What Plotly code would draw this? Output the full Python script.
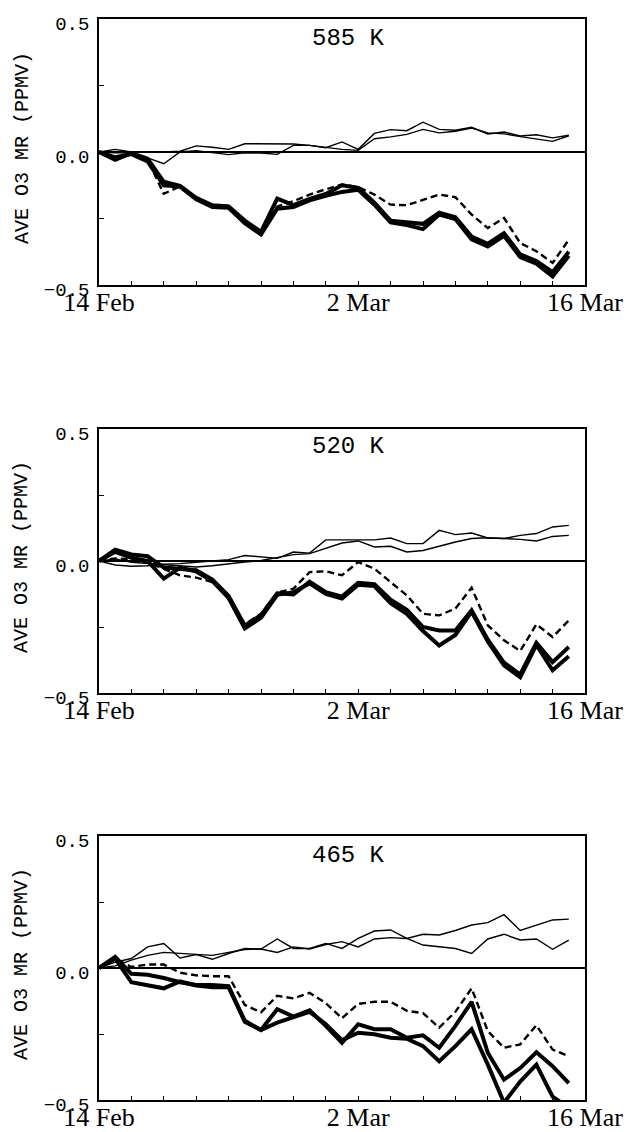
import plotly.graph_objects as go

# ---------------- data ----------------
days = list(range(30))  # days after 14 Feb
x_tickvals = list(range(0, 31, 2))
x_label_map = {0: "14 Feb", 16: "2 Mar", 30: "16 Mar"}
y_tickvals = [-0.5, -0.25, 0.0, 0.25, 0.5]
y_ticktext = ["\u22120.5", "", "0.0", "", "0.5"]
panel_titles = ["585 K", "520 K", "465 K"]
y_title = "AVE O3 MR (PPMV)"

# 585 K
p1_thin_a = [0, 0.01, 0, 0, 0, 0.003, 0.023, 0.018, 0.01, 0.031, 0.03, 0.03, 0.03, 0.025, 0.016,
             0.038, 0.01, 0.07, 0.084, 0.08, 0.112, 0.085, 0.082, 0.093, 0.068, 0.075, 0.06, 0.065,
             0.053, 0.063]
p1_thin_b = [0, -0.003, -0.003, -0.022, -0.044, 0, 0.005, -0.002, -0.01, -0.003, -0.004, -0.009,
             0.025, 0.025, 0.018, 0.01, 0.006, 0.05, 0.057, 0.066, 0.085, 0.072, 0.078, 0.09, 0.072,
             0.068, 0.058, 0.049, 0.04, 0.061]
p1_thick_a = [0, -0.029, -0.004, -0.025, -0.112, -0.127, -0.172, -0.2, -0.205, -0.258, -0.3, -0.175,
              -0.2, -0.176, -0.158, -0.125, -0.135, -0.19, -0.258, -0.265, -0.27, -0.228, -0.245,
              -0.318, -0.345, -0.305, -0.385, -0.41, -0.452, -0.375]
p1_thick_b = [0, -0.02, -0.008, -0.035, -0.125, -0.13, -0.178, -0.207, -0.21, -0.268, -0.31, -0.213,
              -0.207, -0.182, -0.165, -0.15, -0.142, -0.198, -0.265, -0.275, -0.29, -0.235, -0.252,
              -0.328, -0.355, -0.315, -0.395, -0.42, -0.468, -0.39]
p1_dashed = [0, -0.025, -0.005, -0.03, -0.157, -0.129, -0.172, -0.2, -0.203, -0.258, -0.3, -0.205,
             -0.185, -0.16, -0.14, -0.122, -0.132, -0.16, -0.198, -0.2, -0.18, -0.16, -0.17, -0.235,
             -0.286, -0.248, -0.342, -0.373, -0.417, -0.33]

# 520 K
p2_thin_a = [0, -0.015, -0.02, -0.018, -0.012, -0.01, -0.005, 0, 0.005, 0.021, 0.015, 0.01, 0.034,
             0.03, 0.08, 0.08, 0.08, 0.08, 0.087, 0.066, 0.066, 0.116, 0.1, 0.106, 0.087, 0.085,
             0.097, 0.104, 0.129, 0.135]
p2_thin_b = [0, 0.008, -0.005, -0.01, -0.015, -0.02, -0.023, -0.018, -0.01, -0.004, 0.002, 0.012,
             0.024, 0.028, 0.047, 0.068, 0.076, 0.053, 0.056, 0.034, 0.04, 0.056, 0.072, 0.085,
             0.088, 0.085, 0.082, 0.076, 0.093, 0.097]
p2_thick_a = [0, 0.043, 0.025, 0.018, -0.025, -0.03, -0.035, -0.07, -0.132, -0.245, -0.205, -0.122,
              -0.127, -0.078, -0.118, -0.135, -0.083, -0.088, -0.147, -0.185, -0.25, -0.263, -0.263,
              -0.187, -0.298, -0.385, -0.43, -0.31, -0.383, -0.326]
p2_thick_b = [0, 0.035, 0.012, 0, -0.067, -0.025, -0.04, -0.076, -0.14, -0.255, -0.215, -0.128,
              -0.118, -0.085, -0.125, -0.142, -0.09, -0.095, -0.16, -0.2, -0.265, -0.32, -0.28,
              -0.192, -0.305, -0.395, -0.44, -0.318, -0.414, -0.361]
p2_dashed = [0, 0.01, 0.005, -0.005, -0.03, -0.054, -0.063, -0.08, -0.13, -0.24, -0.2, -0.12, -0.105,
             -0.042, -0.039, -0.054, -0.004, -0.029, -0.08, -0.13, -0.2, -0.206, -0.18, -0.101,
             -0.244, -0.3, -0.341, -0.24, -0.288, -0.225]

# 465 K
p3_thin_a = [0, 0.022, 0.036, 0.08, 0.093, 0.038, 0.051, 0.033, 0.055, 0.074, 0.072, 0.11, 0.074,
             0.074, 0.093, 0.074, 0.112, 0.14, 0.144, 0.112, 0.087, 0.08, 0.074, 0.055, 0.11, 0.128,
             0.106, 0.11, 0.071, 0.106]
p3_thin_b = [0, 0.008, 0.03, 0.048, 0.059, 0.055, 0.051, 0.048, 0.059, 0.07, 0.072, 0.059, 0.08,
             0.072, 0.089, 0.1, 0.08, 0.11, 0.115, 0.112, 0.128, 0.125, 0.142, 0.163, 0.172, 0.202,
             0.142, 0.161, 0.182, 0.185]
p3_thick_a = [0, 0.042, -0.022, -0.026, -0.038, -0.054, -0.064, -0.064, -0.069, -0.204, -0.235,
              -0.156, -0.184, -0.16, -0.219, -0.283, -0.213, -0.232, -0.232, -0.264, -0.255, -0.302,
              -0.219, -0.128, -0.321, -0.423, -0.379, -0.319, -0.372, -0.436]
p3_thick_b = [0, 0.036, -0.054, -0.066, -0.077, -0.051, -0.066, -0.073, -0.073, -0.2, -0.235,
              -0.207, -0.188, -0.166, -0.213, -0.273, -0.245, -0.251, -0.264, -0.268, -0.296,
              -0.353, -0.296, -0.232, -0.366, -0.51, -0.43, -0.366, -0.487, -0.53]
p3_dashed = [0, 0.036, 0.004, 0.013, 0.013, -0.018, -0.028, -0.031, -0.031, -0.14, -0.168, -0.105,
             -0.115, -0.094, -0.133, -0.19, -0.136, -0.128, -0.128, -0.162, -0.171, -0.226, -0.166,
             -0.077, -0.239, -0.302, -0.289, -0.217, -0.309, -0.334]

panels = [
    (p1_thin_a, p1_thin_b, p1_thick_a, p1_thick_b, p1_dashed),
    (p2_thin_a, p2_thin_b, p2_thick_a, p2_thick_b, p2_dashed),
    (p3_thin_a, p3_thin_b, p3_thick_a, p3_thick_b, p3_dashed),
]

# ---------------- layout geometry (page pixels) ----------------
W, H = 631, 1132
x_left, x_right = 99, 585
panel_px = [(19, 285), (429, 693), (836, 1100)]
title_y_px = [38, 447, 855]

fig = go.Figure()
layout = dict(
    width=W, height=H,
    margin=dict(l=0, r=0, t=0, b=0, pad=0, autoexpand=False),
    paper_bgcolor="white", plot_bgcolor="white",
    showlegend=False,
    annotations=[],
)

for i, series in enumerate(panels):
    n = i + 1
    xa = "x" if n == 1 else f"x{n}"
    ya = "y" if n == 1 else f"y{n}"
    thin_a, thin_b, thick_a, thick_b, dashed = series
    styles = [
        (thin_a, dict(width=1.4, color="black")),
        (thin_b, dict(width=1.4, color="black")),
        (dashed, dict(width=2.4, color="black", dash="7px,4px")),
        (thick_a, dict(width=4, color="black")),
        (thick_b, dict(width=4, color="black")),
    ]
    for vals, line in styles:
        fig.add_trace(go.Scatter(x=days, y=vals, mode="lines", line=line,
                                 xaxis=xa, yaxis=ya, hoverinfo="skip"))
    top, bot = panel_px[i]
    xkey = "xaxis" if n == 1 else f"xaxis{n}"
    ykey = "yaxis" if n == 1 else f"yaxis{n}"
    layout[xkey] = dict(
        domain=[x_left / W, x_right / W], anchor=ya, range=[0, 30],
        automargin=False,
        tickmode="array", tickvals=x_tickvals,
        ticktext=[x_label_map.get(v, "") for v in x_tickvals],
        ticks="inside", ticklen=4, tickwidth=1, tickcolor="black",
        showline=True, linecolor="black", linewidth=1.5, mirror=True,
        showgrid=False, zeroline=False,
        tickfont=dict(family="Liberation Serif", size=26, color="black"),
        ticklabelstandoff=-7,
    )
    layout[ykey] = dict(
        domain=[1 - bot / H, 1 - top / H], anchor=xa, range=[-0.5, 0.5],
        automargin=False,
        tickmode="array", tickvals=y_tickvals, ticktext=y_ticktext,
        ticks="inside", ticklen=5, tickwidth=1, tickcolor="black",
        showline=True, linecolor="black", linewidth=1.5, mirror=True,
        showgrid=False, zeroline=True, zerolinecolor="black", zerolinewidth=1.6,
        tickfont=dict(family="Liberation Mono", size=19, color="black"),
        ticklabelstandoff=4, ticklabelshift=4,
    )
    layout["annotations"].append(dict(
        text=panel_titles[i], xref="paper", yref="paper",
        x=348 / W, y=1 - title_y_px[i] / H, xanchor="center", yanchor="middle",
        showarrow=False, font=dict(family="Liberation Mono", size=24, color="black"),
    ))
    layout["annotations"].append(dict(
        text=y_title, xref="paper", yref="paper", textangle=-90,
        x=22 / W, y=1 - ((top + bot) / 2 - 4) / H, xanchor="center", yanchor="middle",
        showarrow=False, font=dict(family="Liberation Mono", size=20, color="black"),
    ))

fig.update_layout(**layout)
fig.write_html(
    "out.html",
    config={"displayModeBar": False},
    post_script="document.body.style.margin='0';document.body.style.overflow='hidden';",
)
